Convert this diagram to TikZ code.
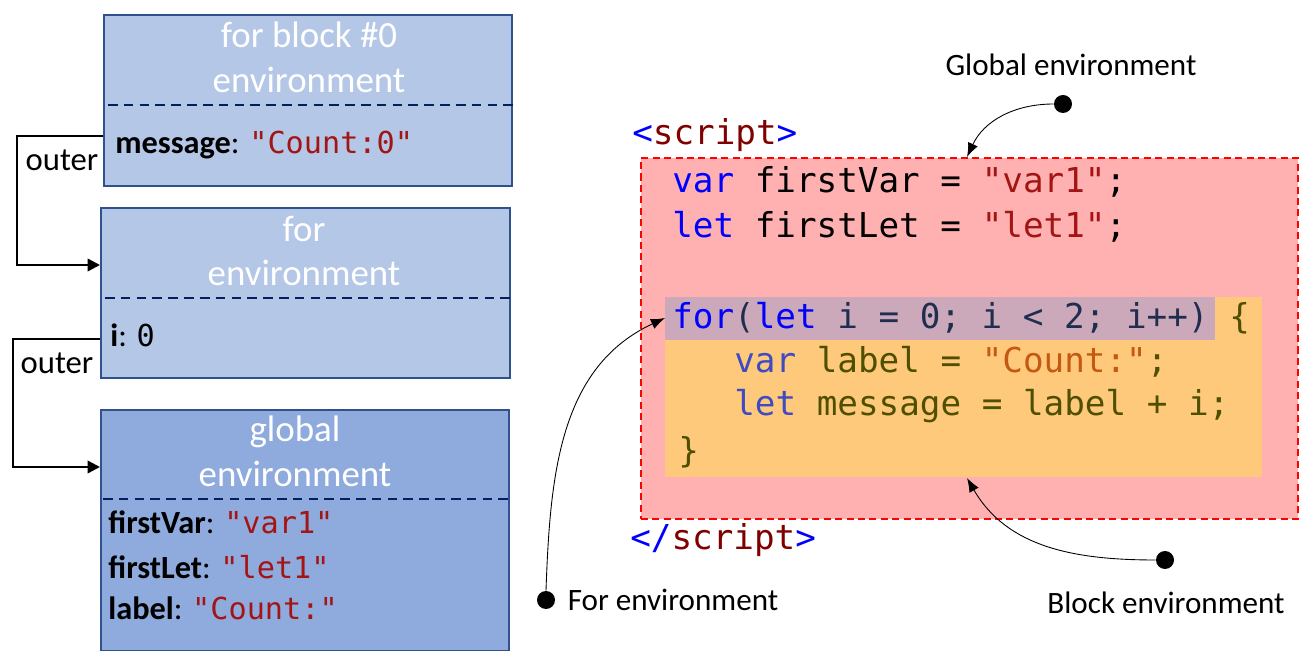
\documentclass[tikz,border=0pt]{standalone}
\usepackage{fontspec}
\setmainfont{Carlito}
\setmonofont{DejaVu Sans Mono}
\usetikzlibrary{arrows.meta}
\definecolor{envlight}{HTML}{B4C7E7}
\definecolor{envdark}{HTML}{8FAADC}
\definecolor{envborder}{HTML}{2F528F}
\definecolor{envsep}{HTML}{002060}
\definecolor{strred}{HTML}{A31515}
\definecolor{kwblue}{HTML}{0000FF}
\definecolor{tagred}{HTML}{800000}
\definecolor{globalfill}{HTML}{FFB0B0}
\definecolor{blockfill}{HTML}{FFC97C}
\definecolor{forfill}{HTML}{CCA8BB}
\definecolor{forink}{HTML}{1F2D4E}
\definecolor{blockkw}{HTML}{3F4BC1}
\definecolor{blockink}{HTML}{4F4F00}
\definecolor{blockstr}{HTML}{C45911}
\newcommand\envval[1]{{\ttfamily\fontsize{17.2}{20}\selectfont\color{strred}#1}}
\tikzset{
  envbox/.style={draw=envborder, line width=0.9pt, anchor=north west, inner sep=0pt},
  envtitle/.style={text=white, align=center, inner sep=0pt, font=\fontsize{21}{25.6}\selectfont},
  envsepline/.style={draw=envsep, line width=1.1pt, dash pattern=on 5.5pt off 3.5pt},
  enventry/.style={anchor=west, inner sep=0pt, font=\fontsize{18.4}{22}\selectfont},
  outerlink/.style={line width=1.4pt, -{Triangle[length=7pt,width=7pt]}},
  outerlabel/.style={inner sep=0pt, font=\fontsize{18.6}{22}\selectfont},
  codeline/.style={anchor=west, inner sep=0pt, font=\ttfamily\fontsize{19.5}{24}\selectfont},
  scopebox/.style={anchor=north west, inner sep=0pt, draw=none},
  dot/.style={circle, fill=black, inner sep=0pt, minimum size=0.36cm},
  callout/.style={line width=0.5pt, -{Latex[length=8pt,width=6pt]}},
  handnote/.style={inner sep=0pt, font=\fontsize{17.7}{21}\selectfont}
}
\begin{document}
\begin{tikzpicture}[x=0.02cm, y=-0.02cm]
  \useasboundingbox (0,0) rectangle (1313,651);

  % environment records
  \node[envbox, fill=envlight, minimum width=8.16cm, minimum height=3.42cm] (blockenv) at (103,14) {};
  \node[envbox, fill=envlight, minimum width=8.18cm, minimum height=3.40cm] (forenv) at (100,207) {};
  \node[envbox, fill=envdark, minimum width=8.16cm, minimum height=4.82cm] (globalenv) at (100,409) {};

  \node[envtitle] (blocktitle) at (309,57) {for block \#0\\environment};
  \node[envtitle] (fortitle) at (304,251) {for\\environment};
  \node[envtitle] (globaltitle) at (295,451) {global\\environment};

  \draw[envsepline] (108,105) -- (blockenv.east |- 0,105);
  \draw[envsepline] (105,298) -- (forenv.east |- 0,298);
  \draw[envsepline] (103,499) -- (globalenv.east |- 0,499);

  \node[enventry] (msgval) at (115,145) {\textbf{message}: \envval{"Count:0"}};
  \node[enventry] (ival) at (110,335) {\textbf{i}: \envval{\color{black}0}};
  \node[enventry] (varval) at (108,522) {\textbf{firstVar}: \envval{"var1"}};
  \node[enventry] (letval) at (108,567) {\textbf{firstLet}: \envval{"let1"}};
  \node[enventry] (labelval) at (108,608) {\textbf{label}: \envval{"Count:"}};

  % outer links
  \draw[outerlink] (blockenv.west |- 0,136) -| (17,265) -- (forenv.west |- 0,265);
  \draw[outerlink] (forenv.west |- 0,339) -| (13,467) -- (globalenv.west |- 0,467);
  \node[outerlabel] (outer1) at (62,160) {outer};
  \node[outerlabel] (outer2) at (57,363) {outer};

  % script with scopes
  \node[codeline] (scriptopen) at (632,135) {{\color{kwblue}<}{\color{tagred}script}{\color{kwblue}>}};
  \node[scopebox, fill=globalfill, draw=red, dash pattern=on 4pt off 2.5pt, line width=1.1pt, minimum width=13.14cm, minimum height=7.22cm] (globalscope) at (640,157) {};
  \node[scopebox, fill=blockfill, minimum width=11.94cm, minimum height=3.6cm] (blockscope) at (665,297) {};
  \node[scopebox, fill=forfill, minimum width=11.0cm, minimum height=0.86cm] (forscope) at (665,297) {};

  \node[codeline] (line1) at (672,182) {{\color{kwblue}var} firstVar = {\color{strred}"var1"};};
  \node[codeline] (line2) at (672,227) {{\color{kwblue}let} firstLet = {\color{strred}"let1"};};
  \node[codeline, text=forink] (line3) at (672,318) {{\color{kwblue}for}({\color{kwblue}let} i = 0; i < 2; i++) {\color{blockink}\{}};
  \node[codeline, text=blockink] (line4) at (734,362) {{\color{blockkw}var} label = {\color{blockstr}"Count:"};};
  \node[codeline, text=blockink] (line5) at (734,406) {{\color{blockkw}let} message = label + i;};
  \node[codeline, text=blockink] (line6) at (678,452) {\}};
  \node[codeline] (scriptclose) at (630,540) {{\color{kwblue}</}{\color{tagred}script}{\color{kwblue}>}};

  % callouts
  \node[handnote] (globalnote) at (1071,65) {Global environment};
  \node[dot] (globaldot) at (1063,104) {};
  \coordinate (globaltip) at (967,157);
  \draw[callout] (globaldot.west) to[out=180, in=65] (globaltip);

  \node[handnote] (fornote) at (673,600) {For environment};
  \node[dot] (fordot) at (546,600) {};
  \coordinate (fortip) at (665,318);
  \draw[callout] (fordot.north) to[out=88, in=205] (fortip);

  \node[handnote] (blocknote) at (1166,603) {Block environment};
  \node[dot] (blockdot) at (1165,560) {};
  \coordinate (blocktip) at (967,478);
  \draw[callout] (blockdot.west) to[out=180, in=-60] (blocktip);
\end{tikzpicture}
\end{document}
